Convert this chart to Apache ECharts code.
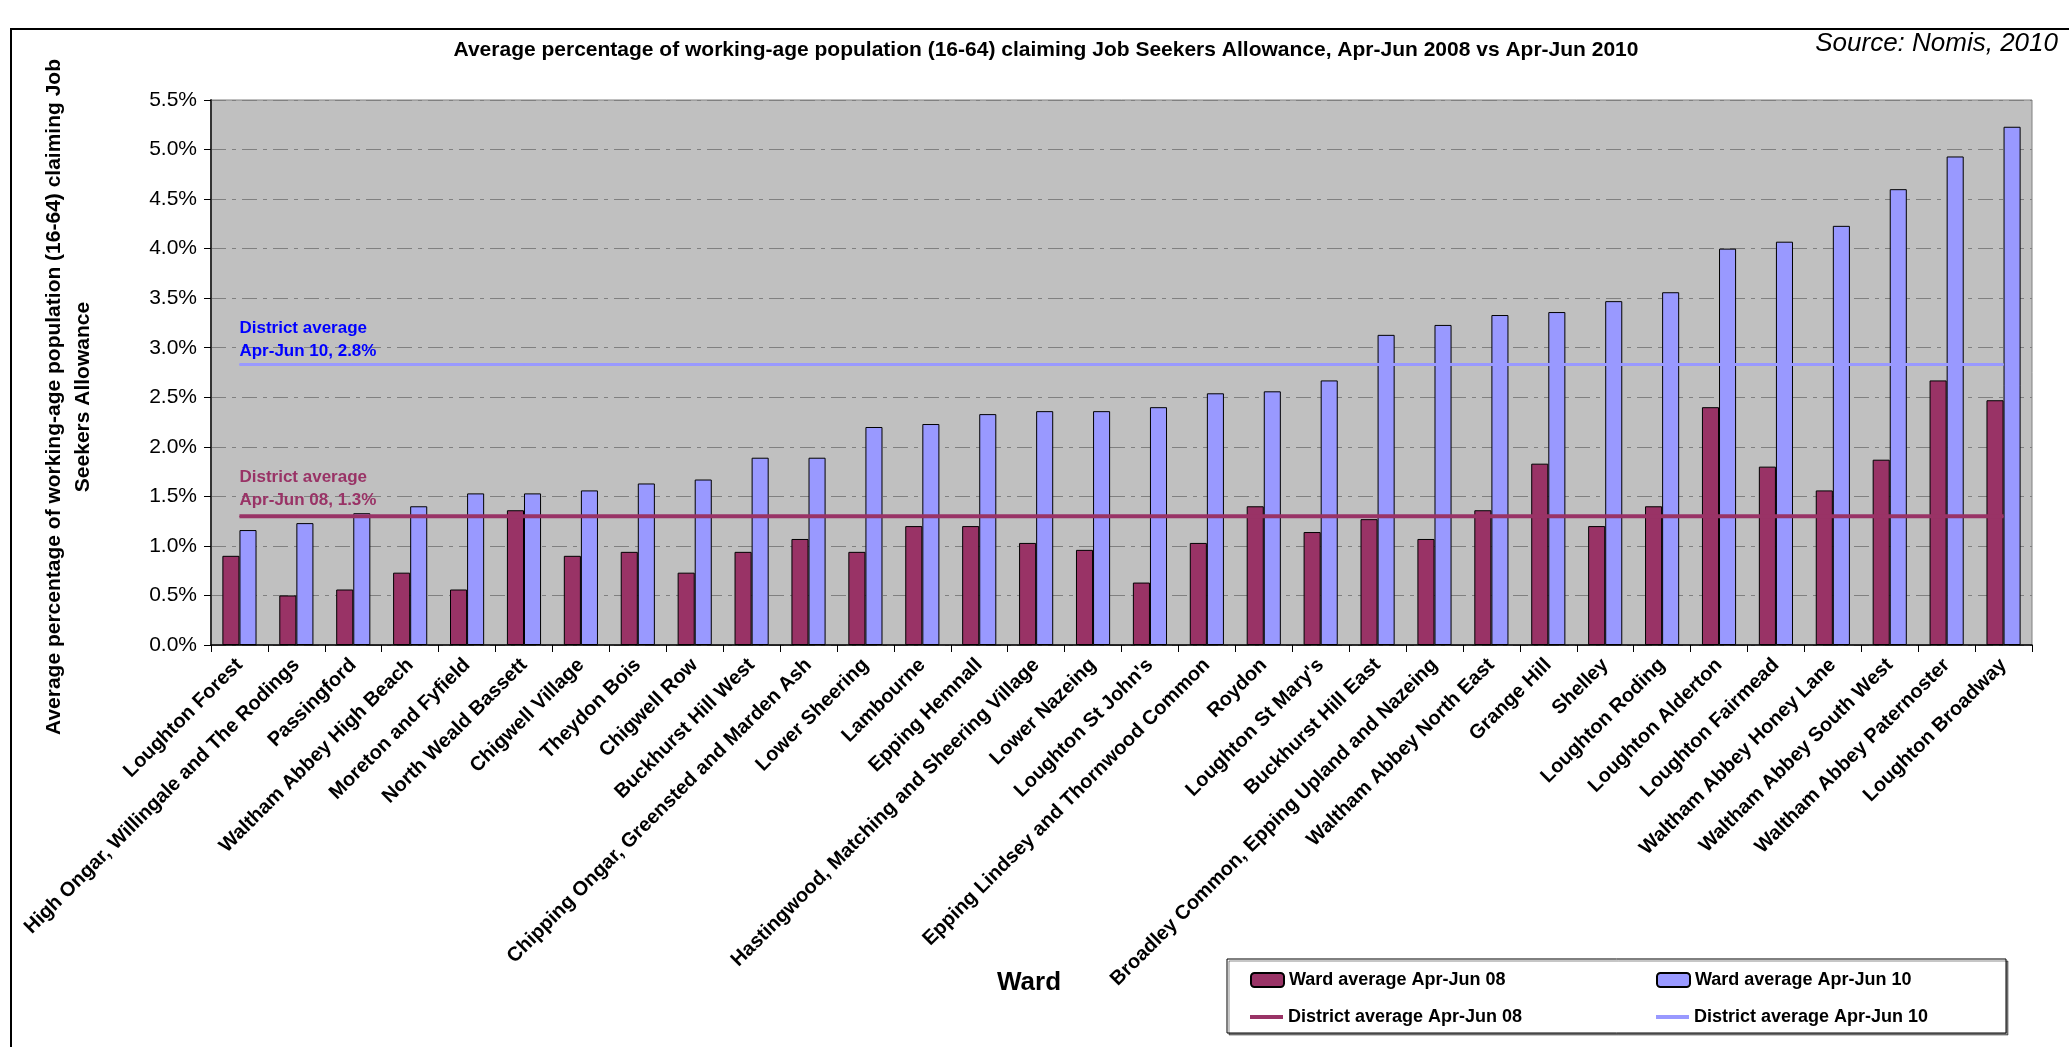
<!DOCTYPE html>
<html>
<head>
<meta charset="utf-8">
<title>Job Seekers Allowance claimants by ward</title>
<script src="https://cdn.jsdelivr.net/npm/echarts@6/dist/echarts.min.js"></script>
<style>
  html, body { margin: 0; padding: 0; background: #ffffff; }
  #chart { width: 2069px; height: 1047px; }
</style>
</head>
<body>
<div id="chart"></div>
<script>
// Wards of Epping Forest district, ordered by the Apr-Jun 2010 rate
const wards = [
  'Loughton Forest',
  'High Ongar, Willingale and The Rodings',
  'Passingford',
  'Waltham Abbey High Beach',
  'Moreton and Fyfield',
  'North Weald Bassett',
  'Chigwell Village',
  'Theydon Bois',
  'Chigwell Row',
  'Buckhurst Hill West',
  'Chipping Ongar, Greensted and Marden Ash',
  'Lower Sheering',
  'Lambourne',
  'Epping Hemnall',
  'Hastingwood, Matching and Sheering Village',
  'Lower Nazeing',
  "Loughton St John's",
  'Epping Lindsey and Thornwood Common',
  'Roydon',
  "Loughton St Mary's",
  'Buckhurst Hill East',
  'Broadley Common, Epping Upland and Nazeing',
  'Waltham Abbey North East',
  'Grange Hill',
  'Shelley',
  'Loughton Roding',
  'Loughton Alderton',
  'Loughton Fairmead',
  'Waltham Abbey Honey Lane',
  'Waltham Abbey South West',
  'Waltham Abbey Paternoster',
  'Loughton Broadway'
];

// Ward average claimant rate (%), Apr-Jun 2008
const ward08 = [
  0.90, 0.50, 0.56, 0.73, 0.56, 1.36, 0.90, 0.94, 0.73, 0.94,
  1.07, 0.94, 1.20, 1.20, 1.03, 0.96, 0.63, 1.03, 1.40, 1.14,
  1.27, 1.07, 1.36, 1.83, 1.20, 1.40, 2.40, 1.80, 1.56, 1.87,
  2.67, 2.47
];

// Ward average claimant rate (%), Apr-Jun 2010
const ward10 = [
  1.16, 1.23, 1.33, 1.40, 1.53, 1.53, 1.56, 1.63, 1.67, 1.89,
  1.89, 2.20, 2.23, 2.33, 2.36, 2.36, 2.40, 2.54, 2.56, 2.67,
  3.13, 3.23, 3.33, 3.36, 3.47, 3.56, 4.00, 4.07, 4.23, 4.60,
  4.93, 5.23
];

// District averages (%)
const district08 = 1.3;
const district10 = 2.83;

// Value axis range and step (%)
const yMin = 0;
const yMax = 5.5;
const yStep = 0.5;

const COL08 = '#993366';
const COL10 = '#9999FF';
const FONT = 'Liberation Sans, Arial, sans-serif';

const seriesNames = {
  bar08: 'Ward average Apr-Jun 08',
  bar10: 'Ward average Apr-Jun 10',
  line08: 'District average Apr-Jun 08',
  line10: 'District average Apr-Jun 10'
};

// District average drawn as a flat line across all wards, labelled at its first point
function districtLine(value, period) {
  return wards.map((_, i) => i === 0
    ? { value: value, label: { show: true, formatter: () => 'District average\nApr-Jun ' + period + ', ' + value.toFixed(1) + '%' } }
    : value);
}

function legendAt(name, left, top, isLine) {
  return {
    data: [isLine ? { name: name, icon: 'rect' } : name],
    left: left, top: top,
    padding: 0,
    itemWidth: 33, itemHeight: isLine ? 4 : 14, itemGap: 6,
    selectedMode: false,
    textStyle: { fontFamily: FONT, fontSize: 18, fontWeight: 'bold', color: '#000' }
  };
}

const chart = echarts.init(document.getElementById('chart'), null, { renderer: 'canvas' });

chart.setOption({
  backgroundColor: '#ffffff',
  animation: false,
  grid: {
    left: 211, right: 37, top: 100, bottom: 402,
    show: true, backgroundColor: '#C0C0C0', borderColor: '#808080', borderWidth: 1
  },
  legend: [
    legendAt(seriesNames.bar08, 1250, 971, false),
    legendAt(seriesNames.bar10, 1656, 971, false),
    legendAt(seriesNames.line08, 1250, 1008, true),
    legendAt(seriesNames.line10, 1656, 1008, true)
  ],
  xAxis: {
    type: 'category',
    data: wards,
    axisLine: { lineStyle: { color: '#000', width: 1.5 } },
    axisTick: { show: true, length: 7, lineStyle: { color: '#000' } },
    axisLabel: {
      interval: 0, rotate: 45, margin: 17,
      fontFamily: FONT, fontSize: 20, fontWeight: 'bold', color: '#000'
    },
    splitLine: { show: false }
  },
  yAxis: {
    type: 'value',
    min: yMin, max: yMax, interval: yStep,
    axisLine: { show: true, lineStyle: { color: '#333', width: 2 } },
    axisTick: { show: true, length: 7, lineStyle: { color: '#000' } },
    axisLabel: {
      margin: 14, fontFamily: FONT, fontSize: 21, color: '#000',
      formatter: v => v.toFixed(1) + '%'
    },
    splitLine: { show: true, lineStyle: { color: '#808080', width: 1, type: [15, 6, 4, 6] } }
  },
  series: [
    {
      name: seriesNames.bar08, type: 'bar', data: ward08,
      barGap: '0%', barCategoryGap: '40%',
      itemStyle: { color: COL08, borderColor: '#000', borderWidth: 1 }
    },
    {
      name: seriesNames.bar10, type: 'bar', data: ward10,
      barGap: '0%', barCategoryGap: '40%',
      itemStyle: { color: COL10, borderColor: '#000', borderWidth: 1 }
    },
    {
      name: seriesNames.line08, type: 'line', data: districtLine(district08, '08'),
      symbol: 'circle', symbolSize: 1, z: 5,
      lineStyle: { color: COL08, width: 4 },
      itemStyle: { color: COL08 },
      label: {
        position: 'top', align: 'left', distance: 4,
        fontFamily: FONT, fontSize: 17, fontWeight: 'bold', lineHeight: 23, color: COL08
      }
    },
    {
      name: seriesNames.line10, type: 'line', data: districtLine(district10, '10'),
      symbol: 'circle', symbolSize: 1, z: 5,
      lineStyle: { color: COL10, width: 3 },
      itemStyle: { color: COL10 },
      label: {
        position: 'top', align: 'left', distance: 1,
        fontFamily: FONT, fontSize: 17, fontWeight: 'bold', lineHeight: 23, color: '#0000FF'
      }
    }
  ],
  graphic: [
    // frame around the chart area
    {
      type: 'polyline', silent: true, z: 100,
      shape: { points: [[11, 1047], [11, 29], [2069, 29]] },
      style: { stroke: '#000', lineWidth: 2, fill: null }
    },
    {
      type: 'text', silent: true,
      style: {
        x: 1046, y: 50, text: 'Average percentage of working-age population (16-64) claiming Job Seekers Allowance, Apr-Jun 2008 vs Apr-Jun 2010',
        textAlign: 'center', textVerticalAlign: 'middle',
        font: 'bold 21px ' + FONT, fill: '#000'
      }
    },
    {
      type: 'text', silent: true,
      style: {
        x: 2058, y: 44, text: 'Source: Nomis, 2010',
        textAlign: 'right', textVerticalAlign: 'middle',
        font: 'italic 26px ' + FONT, fill: '#000'
      }
    },
    {
      type: 'text', silent: true,
      x: 69, y: 397, rotation: Math.PI / 2,
      style: {
        x: 0, y: 0,
        text: 'Average percentage of working-age population (16-64) claiming Job\nSeekers Allowance',
        textAlign: 'center', textVerticalAlign: 'middle', lineHeight: 29,
        font: 'bold 21px ' + FONT, fill: '#000'
      }
    },
    {
      type: 'text', silent: true,
      style: {
        x: 1029, y: 983, text: 'Ward',
        textAlign: 'center', textVerticalAlign: 'middle',
        font: 'bold 26px ' + FONT, fill: '#000'
      }
    },
    // legend box
    {
      type: 'rect', silent: true, z: -1,
      shape: { x: 1227, y: 959, width: 779, height: 74 },
      style: {
        fill: '#fff', stroke: '#000', lineWidth: 1,
        shadowColor: 'rgba(0,0,0,0.45)', shadowOffsetX: 2, shadowOffsetY: 2, shadowBlur: 0
      }
    }
  ]
});
</script>
</body>
</html>
